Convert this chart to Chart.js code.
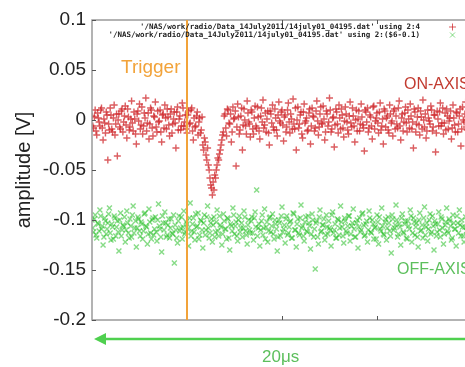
<!DOCTYPE html>
<html>
<head>
<meta charset="utf-8">
<script src="https://cdn.jsdelivr.net/npm/chart.js@4"></script>
<style>
html,body{margin:0;padding:0;background:#fff;overflow:hidden;width:465px;height:367px;}
#wrap{position:absolute;left:0;top:0;width:520px;height:367px;}
</style>
</head>
<body>
<div id="wrap"><canvas id="c" width="520" height="367"></canvas></div>
<script>
// ---- data ----
const yTickLabels = ["-0.2","-0.15","-0.1","-0.05","0","0.05","0.1"];
const yTickValues = [-0.2,-0.15,-0.1,-0.05,0,0.05,0.1];
const triggerSample = 60;
const legendLines = [
  "'/NAS/work/radio/Data_14July2011/14july01_04195.dat' using 2:4",
  "'/NAS/work/radio/Data_14July2011/14july01_04195.dat' using 2:($6-0.1)"
];
// ON-AXIS (column 4), even samples
const onAxis = [
 0.004,-0.008,0.010,-0.015,0.002,-0.006,0.012,-0.020,-0.003,0.008,-0.040,-0.010,0.005,-0.012,0.015,-0.004,-0.036,0.006,-0.009,0.011,
 -0.002,0.014,-0.018,0.003,-0.007,0.019,-0.011,0.001,-0.024,0.009,0.016,-0.005,-0.014,0.007,0.022,-0.003,-0.019,0.012,-0.008,0.004,
 0.018,-0.012,-0.002,0.010,-0.022,0.006,0.015,-0.009,0.003,-0.016,0.011,-0.004,0.008,-0.028,0.013,0.001,-0.010,0.017,-0.006,0.005,
 -0.013,0.009,-0.003,0.012,-0.020,-0.007,0.004,-0.015,0.002,-0.010,-0.025,-0.018,-0.035,-0.028,-0.050,-0.065,-0.075,-0.070,-0.058,-0.045,
 -0.040,-0.030,-0.020,-0.012,0.006,-0.016,0.010,-0.004,-0.022,0.013,0.002,-0.046,0.016,-0.014,0.004,-0.030,0.011,-0.006,0.019,-0.002,
 -0.017,0.008,-0.014,0.014,-0.008,0.003,-0.019,0.012,0.020,-0.005,-0.012,0.009,-0.025,0.006,0.015,-0.010,0.002,-0.016,0.018,-0.003,
 0.010,-0.021,0.005,-0.007,0.017,-0.013,0.001,0.021,-0.009,-0.030,0.013,-0.004,0.008,-0.018,0.016,-0.001,-0.011,0.007,-0.024,0.012,
 0.003,-0.008,0.019,-0.015,0.006,-0.003,0.014,-0.020,0.009,-0.006,0.022,-0.012,0.002,-0.027,0.011,-0.004,0.015,-0.009,0.005,-0.017,
 0.013,-0.002,-0.014,0.018,-0.007,0.004,-0.022,0.010,0.001,-0.011,0.016,-0.005,-0.031,0.008,0.012,-0.008,0.003,-0.019,0.014,-0.001,
 0.007,-0.013,0.017,-0.006,-0.024,0.009,0.002,-0.010,0.015,-0.003,-0.016,0.011,0.004,-0.008,0.019,-0.020,0.006,-0.002,0.013,-0.012,
 0.001,0.016,-0.009,-0.028,0.008,-0.004,0.012,-0.015,0.003,0.020,-0.007,-0.018,0.010,-0.001,0.014,-0.011,0.005,-0.032,0.009,-0.006,
 0.017,-0.003,-0.014,0.007,0.011,-0.009,0.002,-0.019,0.015,-0.005,0.008,-0.012,0.004,-0.026,0.013,-0.002,0.018,-0.010,0.006,-0.004
];
// ON-AXIS, odd samples
const onAxis2 = [
 -0.006,0.003,-0.011,0.007,-0.002,0.010,-0.008,0.001,-0.013,0.005,-0.004,0.012,-0.009,0.002,-0.015,0.006,0.000,-0.007,0.009,-0.012,
 0.004,-0.005,0.011,-0.010,0.001,-0.003,0.008,-0.014,0.006,-0.001,-0.009,0.013,-0.006,0.002,-0.011,0.007,-0.004,0.010,-0.016,0.003,
 -0.007,0.009,-0.001,-0.012,0.005,-0.008,0.002,0.011,-0.005,0.006,-0.013,0.001,-0.003,0.008,-0.010,0.004,-0.006,0.012,-0.002,-0.009,
 0.005,-0.004,0.010,-0.011,0.002,-0.006,0.008,-0.002,-0.013,0.003,-0.030,-0.022,-0.040,-0.045,-0.058,-0.068,-0.062,-0.055,-0.050,-0.038,
 -0.034,-0.025,-0.015,0.004,-0.008,0.011,-0.003,0.006,-0.012,0.001,0.009,-0.007,0.003,-0.010,0.012,-0.005,0.000,-0.014,0.007,-0.004,
 0.010,-0.009,0.002,-0.006,0.013,-0.011,0.004,-0.002,-0.008,0.007,0.001,-0.013,0.009,-0.003,-0.007,0.011,-0.010,0.005,-0.001,0.008,
 -0.005,0.003,-0.012,0.010,-0.002,0.006,-0.009,-0.004,0.012,0.000,-0.008,0.005,-0.014,0.008,-0.003,0.002,-0.010,0.011,-0.006,0.004,
 -0.011,0.009,-0.001,-0.007,0.013,-0.004,0.001,-0.012,0.006,-0.002,0.010,-0.009,0.003,-0.005,0.008,-0.013,0.002,0.011,-0.008,-0.001,
 0.006,-0.010,0.004,-0.003,0.012,-0.006,0.000,-0.011,0.009,-0.004,0.003,-0.008,0.010,-0.002,-0.012,0.005,-0.006,0.013,-0.009,0.002,
 -0.003,0.008,-0.010,0.001,0.011,-0.007,0.004,-0.013,0.006,-0.001,0.009,-0.009,-0.004,0.012,-0.006,0.002,-0.011,0.007,-0.003,0.010,
 -0.008,0.004,-0.002,0.011,-0.012,0.003,-0.005,0.009,-0.009,0.000,0.006,-0.011,0.002,-0.004,0.010,-0.007,0.005,-0.013,0.001,0.008,
 -0.006,0.012,-0.003,-0.010,0.004,-0.001,0.009,-0.008,0.002,-0.012,0.007,-0.004,0.011,-0.009,0.000,0.006,-0.007,0.003,-0.011,0.008
];
// OFF-AXIS (column 6 - 0.1), even samples
const offAxis = [
 -0.100,-0.112,-0.095,-0.118,-0.104,-0.090,-0.109,-0.125,-0.098,-0.114,-0.103,-0.088,-0.120,-0.107,-0.096,-0.116,-0.101,-0.131,-0.093,-0.110,
 -0.106,-0.122,-0.091,-0.113,-0.099,-0.117,-0.086,-0.108,-0.127,-0.097,-0.111,-0.102,-0.119,-0.094,-0.106,-0.124,-0.089,-0.113,-0.100,-0.115,
 -0.097,-0.121,-0.084,-0.109,-0.132,-0.103,-0.092,-0.117,-0.105,-0.118,-0.099,-0.114,-0.143,-0.110,-0.123,-0.096,-0.108,-0.119,-0.091,-0.112,
 -0.104,-0.126,-0.083,-0.111,-0.098,-0.120,-0.107,-0.093,-0.115,-0.101,-0.128,-0.095,-0.110,-0.086,-0.118,-0.103,-0.122,-0.097,-0.112,-0.090,
 -0.116,-0.105,-0.125,-0.094,-0.109,-0.119,-0.099,-0.130,-0.106,-0.088,-0.114,-0.102,-0.121,-0.096,-0.108,-0.117,-0.091,-0.111,-0.124,-0.100,
 -0.113,-0.097,-0.120,-0.092,-0.070,-0.108,-0.126,-0.101,-0.115,-0.089,-0.107,-0.122,-0.098,-0.112,-0.094,-0.119,-0.104,-0.131,-0.100,-0.116,
 -0.087,-0.109,-0.123,-0.096,-0.113,-0.102,-0.118,-0.093,-0.110,-0.127,-0.099,-0.115,-0.085,-0.106,-0.121,-0.097,-0.112,-0.103,-0.129,-0.094,
 -0.117,-0.149,-0.101,-0.124,-0.090,-0.111,-0.105,-0.120,-0.095,-0.114,-0.108,-0.126,-0.092,-0.110,-0.118,-0.099,-0.115,-0.086,-0.107,-0.123,
 -0.101,-0.113,-0.096,-0.121,-0.106,-0.089,-0.117,-0.103,-0.128,-0.098,-0.110,-0.093,-0.116,-0.104,-0.122,-0.091,-0.112,-0.100,-0.119,-0.107,
 -0.095,-0.124,-0.109,-0.088,-0.114,-0.102,-0.120,-0.097,-0.111,-0.133,-0.099,-0.108,-0.085,-0.117,-0.104,-0.125,-0.094,-0.113,-0.101,-0.119,
 -0.106,-0.090,-0.122,-0.098,-0.115,-0.103,-0.127,-0.093,-0.110,-0.118,-0.087,-0.107,-0.121,-0.100,-0.114,-0.096,-0.130,-0.104,-0.112,-0.092,
 -0.117,-0.099,-0.124,-0.105,-0.088,-0.113,-0.101,-0.120,-0.095,-0.109,-0.126,-0.103,-0.090,-0.116,-0.107,-0.122,-0.097,-0.111,-0.100,-0.118
];
// OFF-AXIS, odd samples
const offAxis2 = [
 -0.108,-0.099,-0.115,-0.103,-0.111,-0.096,-0.106,-0.117,-0.101,-0.109,-0.094,-0.113,-0.104,-0.119,-0.098,-0.107,-0.112,-0.100,-0.116,-0.105,
 -0.097,-0.110,-0.103,-0.118,-0.106,-0.095,-0.113,-0.101,-0.108,-0.099,-0.116,-0.104,-0.111,-0.093,-0.107,-0.114,-0.102,-0.119,-0.098,-0.109,
 -0.112,-0.100,-0.106,-0.117,-0.096,-0.110,-0.103,-0.115,-0.099,-0.108,-0.113,-0.095,-0.105,-0.118,-0.101,-0.111,-0.097,-0.107,-0.114,-0.102,
 -0.109,-0.098,-0.116,-0.104,-0.112,-0.094,-0.106,-0.119,-0.100,-0.110,-0.103,-0.115,-0.097,-0.108,-0.113,-0.099,-0.105,-0.117,-0.102,-0.111,
 -0.096,-0.107,-0.114,-0.101,-0.109,-0.098,-0.118,-0.104,-0.111,-0.095,-0.106,-0.116,-0.100,-0.112,-0.103,-0.108,-0.097,-0.115,-0.105,-0.110,
 -0.101,-0.113,-0.098,-0.107,-0.116,-0.104,-0.110,-0.095,-0.108,-0.119,-0.102,-0.111,-0.097,-0.106,-0.114,-0.100,-0.109,-0.117,-0.103,-0.096,
 -0.112,-0.105,-0.099,-0.115,-0.107,-0.101,-0.118,-0.094,-0.110,-0.104,-0.113,-0.098,-0.108,-0.116,-0.102,-0.111,-0.096,-0.106,-0.114,-0.100,
 -0.109,-0.103,-0.117,-0.097,-0.112,-0.105,-0.099,-0.115,-0.107,-0.101,-0.110,-0.095,-0.113,-0.104,-0.118,-0.100,-0.108,-0.102,-0.116,-0.098,
 -0.111,-0.106,-0.096,-0.114,-0.103,-0.109,-0.117,-0.100,-0.107,-0.112,-0.094,-0.105,-0.115,-0.101,-0.110,-0.098,-0.113,-0.104,-0.108,-0.119,
 -0.102,-0.097,-0.111,-0.106,-0.115,-0.099,-0.108,-0.103,-0.116,-0.095,-0.110,-0.105,-0.100,-0.114,-0.107,-0.098,-0.112,-0.104,-0.118,-0.101,
 -0.109,-0.096,-0.113,-0.102,-0.107,-0.117,-0.100,-0.111,-0.105,-0.098,-0.115,-0.103,-0.109,-0.094,-0.112,-0.106,-0.101,-0.116,-0.104,-0.110,
 -0.097,-0.108,-0.114,-0.102,-0.111,-0.099,-0.106,-0.118,-0.103,-0.109,-0.096,-0.113,-0.105,-0.100,-0.116,-0.107,-0.111,-0.098,-0.104,-0.112
];

const RED = 'rgba(205,30,35,0.72)';
const GREEN = 'rgba(35,190,35,0.55)';
const ORANGE = '#f2a33a';
const TEXTGREEN = '#5cbf5c';
const FONT = '"Liberation Sans", Arial, sans-serif';

function pts(even, odd) {
  const out = [];
  even.forEach((v, i) => { out.push({x: i, y: v}); out.push({x: i + 0.5, y: odd[i]}); });
  return out;
}

const decor = {
  id: 'decor',
  afterDatasetsDraw(chart) {
    const {ctx, chartArea: a, scales: {x, y}} = chart;
    ctx.save();
    ctx.strokeStyle = '#9a9a9a'; ctx.lineWidth = 1.5;
    ctx.beginPath();
    ctx.moveTo(x.right + 20, a.top); ctx.lineTo(a.left, a.top); ctx.lineTo(a.left, a.bottom); ctx.lineTo(x.right + 20, a.bottom);
    ctx.stroke();
    ctx.strokeStyle = '#555'; ctx.lineWidth = 1;
    ctx.beginPath();
    yTickValues.forEach(v => { const py = Math.round(y.getPixelForValue(v)) + 0.5; ctx.moveTo(a.left, py); ctx.lineTo(a.left + 4, py); });
    [120, 180].forEach(v => { const px = Math.round(x.getPixelForValue(v)) + 0.5;
      ctx.moveTo(px, a.top); ctx.lineTo(px, a.top + 4); ctx.moveTo(px, a.bottom); ctx.lineTo(px, a.bottom - 4); });
    ctx.stroke();
    const tx = x.getPixelForValue(triggerSample);
    ctx.strokeStyle = ORANGE; ctx.lineWidth = 2;
    ctx.beginPath(); ctx.moveTo(tx, a.top); ctx.lineTo(tx, a.bottom); ctx.stroke();
    ctx.font = 'bold 7.5px "DejaVu Sans Mono", monospace';
    ctx.fillStyle = '#222'; ctx.textAlign = 'right'; ctx.textBaseline = 'middle';
    ctx.fillText(legendLines[0], 420, 27);
    ctx.fillText(legendLines[1], 420, 35);
    ctx.strokeStyle = RED; ctx.lineWidth = 1;
    ctx.beginPath(); ctx.moveTo(449, 27); ctx.lineTo(456, 27); ctx.moveTo(452.5, 23.5); ctx.lineTo(452.5, 30.5); ctx.stroke();
    ctx.strokeStyle = GREEN;
    ctx.beginPath(); ctx.moveTo(450, 32.5); ctx.lineTo(455, 37.5); ctx.moveTo(455, 32.5); ctx.lineTo(450, 37.5); ctx.stroke();
    ctx.textAlign = 'left'; ctx.textBaseline = 'middle';
    ctx.font = '19px ' + FONT; ctx.fillStyle = ORANGE;
    ctx.fillText('Trigger', 121, 68);
    ctx.font = '16px ' + FONT; ctx.fillStyle = '#c23b30';
    ctx.fillText('ON-AXIS', 404, 85);
    ctx.fillStyle = TEXTGREEN;
    ctx.fillText('OFF-AXIS', 397, 270);
    ctx.font = '17px ' + FONT;
    ctx.fillText('20μs', 262, 357);
    ctx.strokeStyle = '#4fd04f'; ctx.fillStyle = '#4fd04f'; ctx.lineWidth = 2.5;
    ctx.beginPath(); ctx.moveTo(104, 339); ctx.lineTo(520, 339); ctx.stroke();
    ctx.beginPath(); ctx.moveTo(94, 339); ctx.lineTo(106, 333); ctx.lineTo(106, 345); ctx.closePath(); ctx.fill();
    ctx.restore();
  }
};

new Chart(document.getElementById('c'), {
  type: 'scatter',
  data: {
    datasets: [
      { label: 'on', data: pts(onAxis, onAxis2), pointStyle: 'cross', pointRadius: 3.5,
        borderColor: RED, backgroundColor: RED, borderWidth: 1.4 },
      { label: 'off', data: pts(offAxis, offAxis2), pointStyle: 'crossRot', pointRadius: 3.5,
        borderColor: GREEN, backgroundColor: GREEN, borderWidth: 1.4 }
    ]
  },
  plugins: [decor],
  options: {
    responsive: false, animation: false,
    layout: { padding: { top: 20, right: 48, left: 0, bottom: 0 } },
    plugins: { legend: { display: false }, tooltip: { enabled: false } },
    scales: {
      x: { type: 'linear', min: 0, max: 240, display: true,
           grid: { display: false }, border: { display: false },
           ticks: { display: false },
           afterFit(s) { s.height = 47; } },
      y: { min: -0.2, max: 0.1,
           afterBuildTicks(s) { s.ticks = yTickValues.map(v => ({value: v})); },
           grid: { display: false, drawTicks: false }, border: { display: false },
           ticks: { color: '#222', font: { size: 19, family: FONT }, padding: 6,
                    callback: (v) => yTickLabels[yTickValues.indexOf(v)] },
           title: { display: true, text: 'amplitude [V]', color: '#222', font: { size: 20, family: FONT }, padding: { top: 12, bottom: 0 } },
           afterFit(s) { s.width = 92; } }
    }
  }
});
</script>
</body>
</html>
